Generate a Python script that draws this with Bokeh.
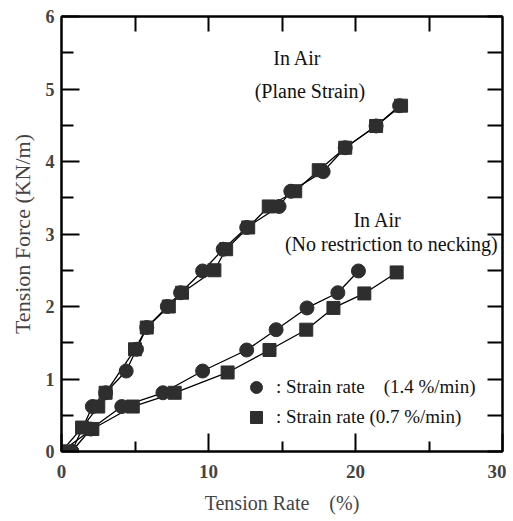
from bokeh.plotting import figure
from bokeh.models import LinearAxis, FixedTicker, Range1d, Label, Legend, LegendItem
from bokeh.embed import file_html
from bokeh.resources import INLINE

# ---- data ----
# Plane strain, 0.7 %/min (squares)
ps_sq_x = [0, 1.4, 2.5, 3.0, 5.0, 5.8, 7.3, 8.2, 10.4, 11.2, 12.7, 14.1, 15.9, 17.5, 19.3, 21.4, 23.1]
ps_sq_y = [0, 0.33, 0.62, 0.81, 1.41, 1.71, 2.0, 2.19, 2.5, 2.79, 3.09, 3.38, 3.59, 3.88, 4.19, 4.49, 4.77]
# Plane strain, 1.4 %/min (circles)
ps_ci_x = [0.7, 2.1, 3.0, 4.4, 5.1, 5.8, 7.2, 8.1, 9.6, 11.0, 12.6, 14.8, 15.6, 17.8, 19.3, 21.4, 23.0]
ps_ci_y = [0, 0.62, 0.81, 1.11, 1.41, 1.71, 2.0, 2.19, 2.49, 2.79, 3.09, 3.38, 3.59, 3.86, 4.19, 4.49, 4.77]
# No restriction to necking, 0.7 %/min (squares)
nr_sq_x = [0, 2.1, 4.85, 7.7, 11.3, 14.15, 16.65, 18.5, 20.6, 22.8]
nr_sq_y = [0, 0.31, 0.62, 0.81, 1.09, 1.40, 1.68, 1.98, 2.18, 2.47]
# No restriction to necking, 1.4 %/min (circles)
nr_ci_x = [0.7, 2.0, 4.1, 6.9, 9.6, 12.6, 14.6, 16.7, 18.8, 20.2]
nr_ci_y = [0, 0.31, 0.62, 0.81, 1.11, 1.40, 1.68, 1.98, 2.19, 2.49]

x_major = [0, 10, 20, 30]
x_minor = [5, 15, 25]
y_major = [0, 1, 2, 3, 4, 5, 6]
y_minor = [0.5, 1.5, 2.5, 3.5, 4.5, 5.5]
y_all = sorted(y_major + y_minor)

FONT = "Liberation Serif"
MARK = "#2e2e2e"
NB = "\u00a0"

p = figure(frame_width=441, frame_height=435,
           x_range=Range1d(0, 30), y_range=Range1d(0, 6),
           output_backend="svg", toolbar_location=None,
           min_border_left=61, min_border_right=4, min_border_top=16, min_border_bottom=64,
           x_axis_label="Tension Rate" + NB * 4 + "(%)", y_axis_label="Tension Force (KN/m)")
p.grid.visible = False
p.outline_line_color = "black"
p.outline_line_width = 2
p.background_fill_color = "white"
p.border_fill_color = "white"

# bottom axis
xa = p.xaxis[0]
xa.ticker = FixedTicker(ticks=x_major, minor_ticks=x_minor)
xa.major_tick_in = 18
xa.major_tick_out = 0
xa.minor_tick_in = 10
xa.minor_tick_out = 0
xa.axis_line_width = 2
xa.major_tick_line_width = 2
xa.minor_tick_line_width = 2
xa.major_label_text_font = FONT
xa.major_label_text_font_style = "bold"
xa.major_label_text_font_size = "19px"
xa.major_label_standoff = 13
xa.axis_label_text_font = FONT
xa.axis_label_text_font_style = "normal"
xa.axis_label_text_font_size = "20px"
xa.axis_label_standoff = 11

# left axis
ya = p.yaxis[0]
ya.ticker = FixedTicker(ticks=y_major, minor_ticks=y_minor)
ya.major_tick_in = 18
ya.major_tick_out = 0
ya.minor_tick_in = 12
ya.minor_tick_out = 0
ya.axis_line_width = 2
ya.major_tick_line_width = 2
ya.minor_tick_line_width = 2
ya.major_label_text_font = FONT
ya.major_label_text_font_style = "bold"
ya.major_label_text_font_size = "18px"
ya.major_label_standoff = 7
ya.axis_label_text_font = FONT
ya.axis_label_text_font_style = "normal"
ya.axis_label_text_font_size = "22px"
ya.axis_label_standoff = 8

# right axis (ticks only)
ra = LinearAxis(ticker=FixedTicker(ticks=y_all, minor_ticks=[]))
ra.major_tick_in = 15
ra.major_tick_out = 0
ra.major_tick_line_width = 2
ra.axis_line_width = 2
ra.major_label_text_font_size = "1px"
ra.major_label_text_color = None
ra.major_label_standoff = 0
p.add_layout(ra, "right")

# top axis (ticks only)
ta = LinearAxis(ticker=FixedTicker(ticks=[5, 10, 15, 20, 25], minor_ticks=[]))
ta.major_tick_in = 15
ta.major_tick_out = 0
ta.major_tick_line_width = 2
ta.axis_line_width = 2
ta.major_label_text_font_size = "1px"
ta.major_label_text_color = None
ta.major_label_standoff = 0
p.add_layout(ta, "above")

# curves
for xs, ys in [(ps_sq_x, ps_sq_y), (ps_ci_x, ps_ci_y), (nr_sq_x, nr_sq_y), (nr_ci_x, nr_ci_y)]:
    p.line(xs, ys, line_color="black", line_width=1.3)

r_sq1 = p.scatter(ps_sq_x, ps_sq_y, marker="square", size=13, fill_color=MARK, line_color=MARK)
r_ci1 = p.scatter(ps_ci_x, ps_ci_y, marker="circle", size=14, fill_color=MARK, line_color=MARK)
r_sq2 = p.scatter(nr_sq_x, nr_sq_y, marker="square", size=13, fill_color=MARK, line_color=MARK)
r_ci2 = p.scatter(nr_ci_x, nr_ci_y, marker="circle", size=14, fill_color=MARK, line_color=MARK)

# annotations
for txt, x, y, align in [("In Air", 16.05, 5.43, "center"),
                         ("(Plane Strain)", 16.9, 4.97, "center"),
                         ("In Air", 21.5, 3.19, "center"),
                         ("(No restriction to necking)", 15.2, 2.86, "left")]:
    p.add_layout(Label(x=x, y=y, text=txt, text_font=FONT, text_font_size="20px",
                       text_align=align, text_baseline="middle", text_color="#111111"))

legend = Legend(items=[LegendItem(label=": Strain rate" + NB * 4 + "(1.4 %/min)", renderers=[r_ci2]),
                       LegendItem(label=": Strain rate (0.7 %/min)", renderers=[r_sq2])],
                location=(180, 19), orientation="vertical")
legend.background_fill_alpha = 0
legend.border_line_alpha = 0
legend.padding = 0
legend.margin = 0
legend.spacing = 0
legend.glyph_width = 30
legend.glyph_height = 30
legend.label_height = 30
legend.label_standoff = 5
legend.label_text_font = FONT
legend.label_text_font_size = "19px"
legend.label_text_color = "#111111"
p.add_layout(legend, "center")

open("out.html", "w").write(file_html(p, INLINE))
